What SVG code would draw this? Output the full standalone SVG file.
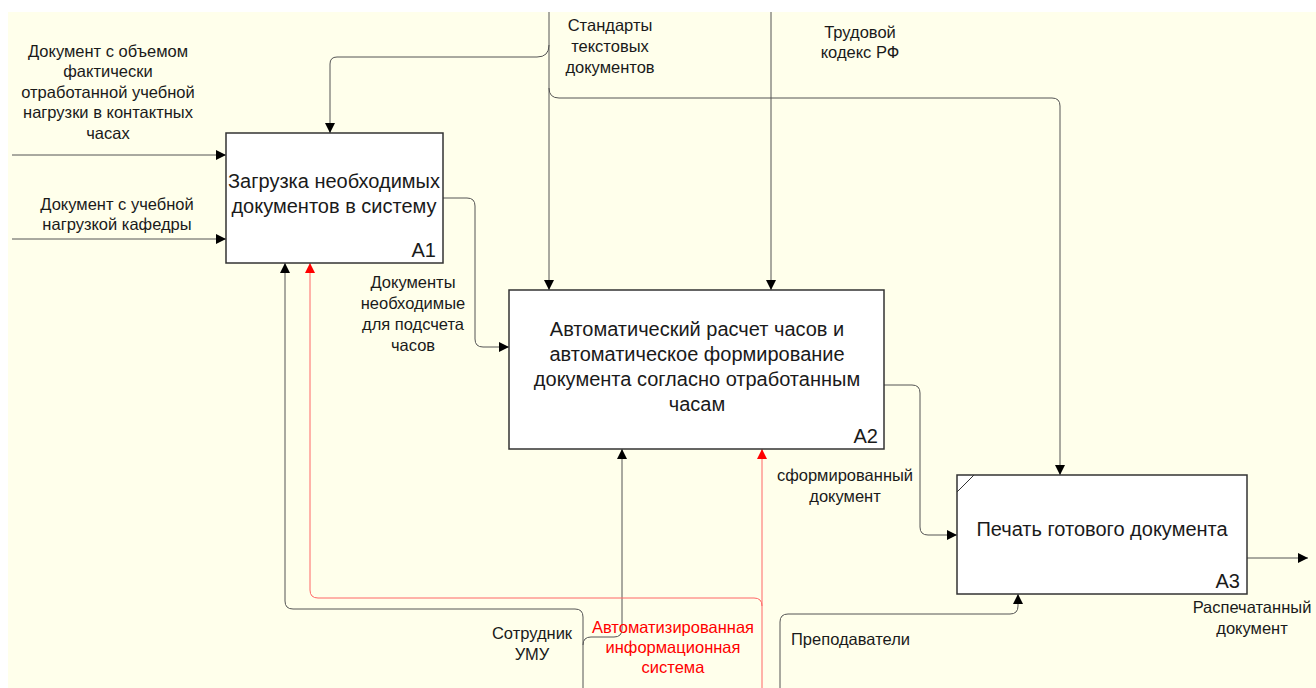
<svg xmlns="http://www.w3.org/2000/svg" width="1316" height="688" viewBox="0 0 1316 688">
  <defs>
    <marker id="ah" viewBox="0 0 10 10" refX="10" refY="5" markerWidth="10" markerHeight="10" markerUnits="userSpaceOnUse" orient="auto">
      <path d="M0,0 L10,5 L0,10 z" fill="#000"/>
    </marker>
    <marker id="ahr" viewBox="0 0 10 10" refX="10" refY="5" markerWidth="10" markerHeight="10" markerUnits="userSpaceOnUse" orient="auto">
      <path d="M0,0 L10,5 L0,10 z" fill="#f00"/>
    </marker>
    <style>
      .box { fill: #fff; stroke: #333; stroke-width: 1.5; }
      .t { font-family: "Liberation Sans", Arial, sans-serif; fill: #1a1a1a; }
      .big { font-size: 20px; text-anchor: middle; }
      .num { font-size: 20px; text-anchor: end; }
      .lbl { font-size: 16.5px; text-anchor: middle; }
      .red { fill: #f00; }
      .c { fill: none; stroke: #555; stroke-width: 1; }
      .cr { fill: none; stroke: #f66; stroke-width: 1; }
    </style>
  </defs>

  <rect x="0" y="0" width="1316" height="688" fill="#fff"/>
  <rect x="8" y="12" width="1308" height="676" fill="#ffffeb"/>

  <g id="connectors">
    <!-- inputs to A1 -->
    <path class="c" d="M12,155 L226,155" marker-end="url(#ah)"/>
    <path class="c" d="M12,239 L226,239" marker-end="url(#ah)"/>
    <!-- text standards: trunk to A2 with branches to A1 and A3 -->
    <path class="c" d="M549,12 L549,290" marker-end="url(#ah)"/>
    <path class="c" d="M549,45 Q549,57 537,57 L337,57 Q330,57 330,64 L330,133" marker-end="url(#ah)"/>
    <path class="c" d="M549,88 Q549,98 559,98 L1052,98 Q1060,98 1060,106 L1060,475" marker-end="url(#ah)"/>
    <!-- labour code to A2 -->
    <path class="c" d="M771,12 L771,290" marker-end="url(#ah)"/>
    <!-- A1 output to A2 -->
    <path class="c" d="M443,198 L467,198 Q475,198 475,206 L475,339 Q475,347 483,347 L509,347" marker-end="url(#ah)"/>
    <!-- A2 output to A3 -->
    <path class="c" d="M884,385 L912,385 Q920,385 920,393 L920,527 Q920,535 928,535 L957,535" marker-end="url(#ah)"/>
    <!-- A3 output -->
    <path class="c" d="M1247,558 L1308,558" marker-end="url(#ah)"/>
    <!-- staff mechanism -->
    <path class="c" d="M583,688 L583,617 Q583,609 575,609 L293,609 Q285,609 285,601 L285,263" marker-end="url(#ah)"/>
    <path class="c" d="M583,645 Q583,637 591,637 L614,637 Q622,637 622,629 L622,449" marker-end="url(#ah)"/>
    <!-- information system mechanism -->
    <path class="cr" d="M762,688 L762,449" marker-end="url(#ahr)"/>
    <path class="cr" d="M762,606 Q762,598 754,598 L318,598 Q310,598 310,590 L310,263" marker-end="url(#ahr)"/>
    <!-- teachers mechanism -->
    <path class="c" d="M780,688 L780,622 Q780,614 788,614 L1010,614 Q1018,614 1018,606 L1018,594" marker-end="url(#ah)"/>
  </g>

  <g id="A1">
    <rect class="box" x="226" y="133" width="217" height="130"/>
    <text class="t big" x="334" y="188">Загрузка необходимых</text>
    <text class="t big" x="334" y="213">документов в систему</text>
    <text class="t num" x="436" y="257">A1</text>
  </g>

  <g id="A2">
    <rect class="box" x="509" y="290" width="375" height="159"/>
    <text class="t big" x="697" y="336">Автоматический расчет часов и</text>
    <text class="t big" x="697" y="361">автоматическое формирование</text>
    <text class="t big" x="697" y="386">документа согласно отработанным</text>
    <text class="t big" x="697" y="411">часам</text>
    <text class="t num" x="878" y="443">A2</text>
  </g>

  <g id="A3">
    <rect class="box" x="957" y="475" width="290" height="119"/>
    <path d="M957,492 L974,475" stroke="#333" stroke-width="1"/>
    <text class="t big" x="1102" y="536">Печать готового документа</text>
    <text class="t num" x="1240" y="588">A3</text>
  </g>

  <g id="labels">
    <text class="t lbl" x="108" y="57">Документ с объемом</text>
    <text class="t lbl" x="108" y="77">фактически</text>
    <text class="t lbl" x="108" y="98">отработанной учебной</text>
    <text class="t lbl" x="108" y="118">нагрузки в контактных</text>
    <text class="t lbl" x="108" y="139">часах</text>
    <text class="t lbl" x="117" y="210">Документ с учебной</text>
    <text class="t lbl" x="117" y="230">нагрузкой кафедры</text>
    <text class="t lbl" x="610" y="31">Стандарты</text>
    <text class="t lbl" x="610" y="52">текстовых</text>
    <text class="t lbl" x="610" y="73">документов</text>
    <text class="t lbl" x="860" y="38">Трудовой</text>
    <text class="t lbl" x="860" y="58">кодекс РФ</text>
    <text class="t lbl" x="413" y="288">Документы</text>
    <text class="t lbl" x="413" y="309">необходимые</text>
    <text class="t lbl" x="413" y="330">для подсчета</text>
    <text class="t lbl" x="413" y="351">часов</text>
    <text class="t lbl" x="845" y="481">сформированный</text>
    <text class="t lbl" x="845" y="502">документ</text>
    <text class="t lbl" x="1252" y="613">Распечатанный</text>
    <text class="t lbl" x="1252" y="634">документ</text>
    <text class="t lbl" x="532" y="639">Сотрудник</text>
    <text class="t lbl" x="532" y="660">УМУ</text>
    <text class="t lbl red" x="673" y="633">Автоматизированная</text>
    <text class="t lbl red" x="673" y="653">информационная</text>
    <text class="t lbl red" x="673" y="673">система</text>
    <text class="t" x="791" y="645" font-size="16.5">Преподаватели</text>
  </g>
</svg>
